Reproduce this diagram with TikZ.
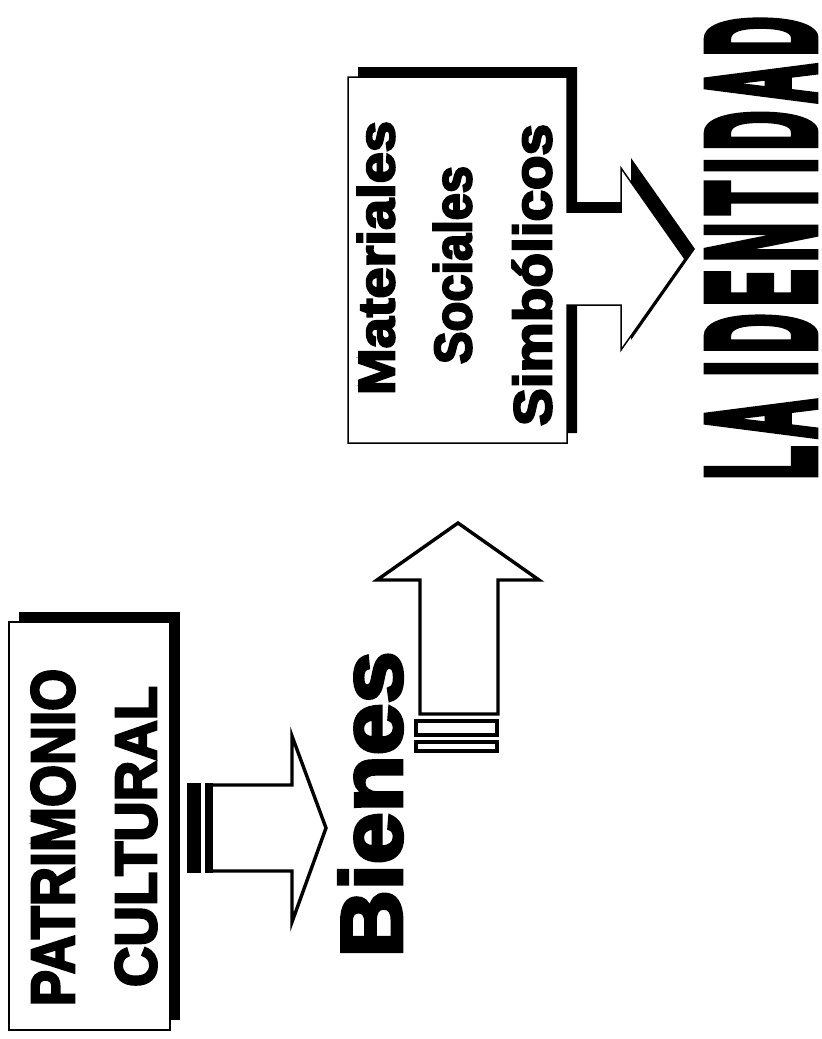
\documentclass[tikz,border=0pt]{standalone}
\usepackage{fontspec}
\usepackage{graphicx}
\newfontfamily\heavyfont[FakeBold=4]{Liberation Sans Bold}
\newfontfamily\titlefont[FakeBold=7, LetterSpace=16]{Liberation Sans Bold}

\begin{document}
\begin{tikzpicture}[x=1pt, y=-1pt,
  boxshadow/.style={fill=black},
  boxframe/.style={draw=black, fill=white, line width=1.5pt, line join=miter},
  blockarrow/.style={draw=black, fill=white, line width=3.4pt, line join=miter},
  vword/.style={rotate=90, inner sep=0pt, outer sep=0pt}]
\useasboundingbox (0,0) rectangle (822,1039);

% Patrimonio cultural box
\fill[boxshadow] (19,612) rectangle (180,1020);
\draw[boxframe] (9,622) rectangle (170,1030);
\node[vword] (patrimonio) at (53,837.5) {\resizebox{337pt}{43pt}{\heavyfont PATRIMONIO}};
\node[vword] (cultural) at (136,836.5) {\resizebox{301pt}{41pt}{\heavyfont CULTURAL}};

% Arrow to Bienes
\fill (187,783) rectangle (201,873);
\fill (205,783) rectangle (213,873);
\draw[blockarrow] (213,785) -- (292,785) -- (292,736) -- (326,828) -- (292,922) -- (292,871) -- (213,871);

\node[vword] (bienes) at (370.5,804.5) {\resizebox{306pt}{63pt}{\heavyfont Bienes}};

% Arrow up to the box
\draw[blockarrow] (420,714) -- (420,580) -- (377,580) -- (458,523) -- (539,580) -- (498,580) -- (498,714) -- cycle;
\draw[blockarrow] (416,721) rectangle (497,735);
\draw[blockarrow] (416,742) rectangle (497,751);

% Box with arrow to La identidad
\begin{scope}[shift={(10,-10)}]
\fill[boxshadow] (348,77) -- (567,77) -- (567,212) -- (621,212) -- (621,168) -- (685,259)
  -- (621,350) -- (621,305) -- (567,305) -- (567,443) -- (348,443) -- cycle;
\end{scope}
\draw[boxframe] (348,77) -- (567,77) -- (567,212) -- (621,212) -- (621,168) -- (685,259)
  -- (621,350) -- (621,305) -- (567,305) -- (567,443) -- (348,443) -- cycle;
\node[vword] (materiales) at (376,258) {\resizebox{274pt}{37pt}{\heavyfont Materiales}};
\node[vword] (sociales) at (452.5,265) {\resizebox{198pt}{38pt}{\heavyfont Sociales}};
\node[vword] (simbolicos) at (532,275) {\resizebox{302pt}{39pt}{\heavyfont Simbólicos}};

\node[vword] (identidad) at (761,248) {\resizebox{462pt}{104pt}{\titlefont LA IDENTIDAD}};
\end{tikzpicture}
\end{document}
